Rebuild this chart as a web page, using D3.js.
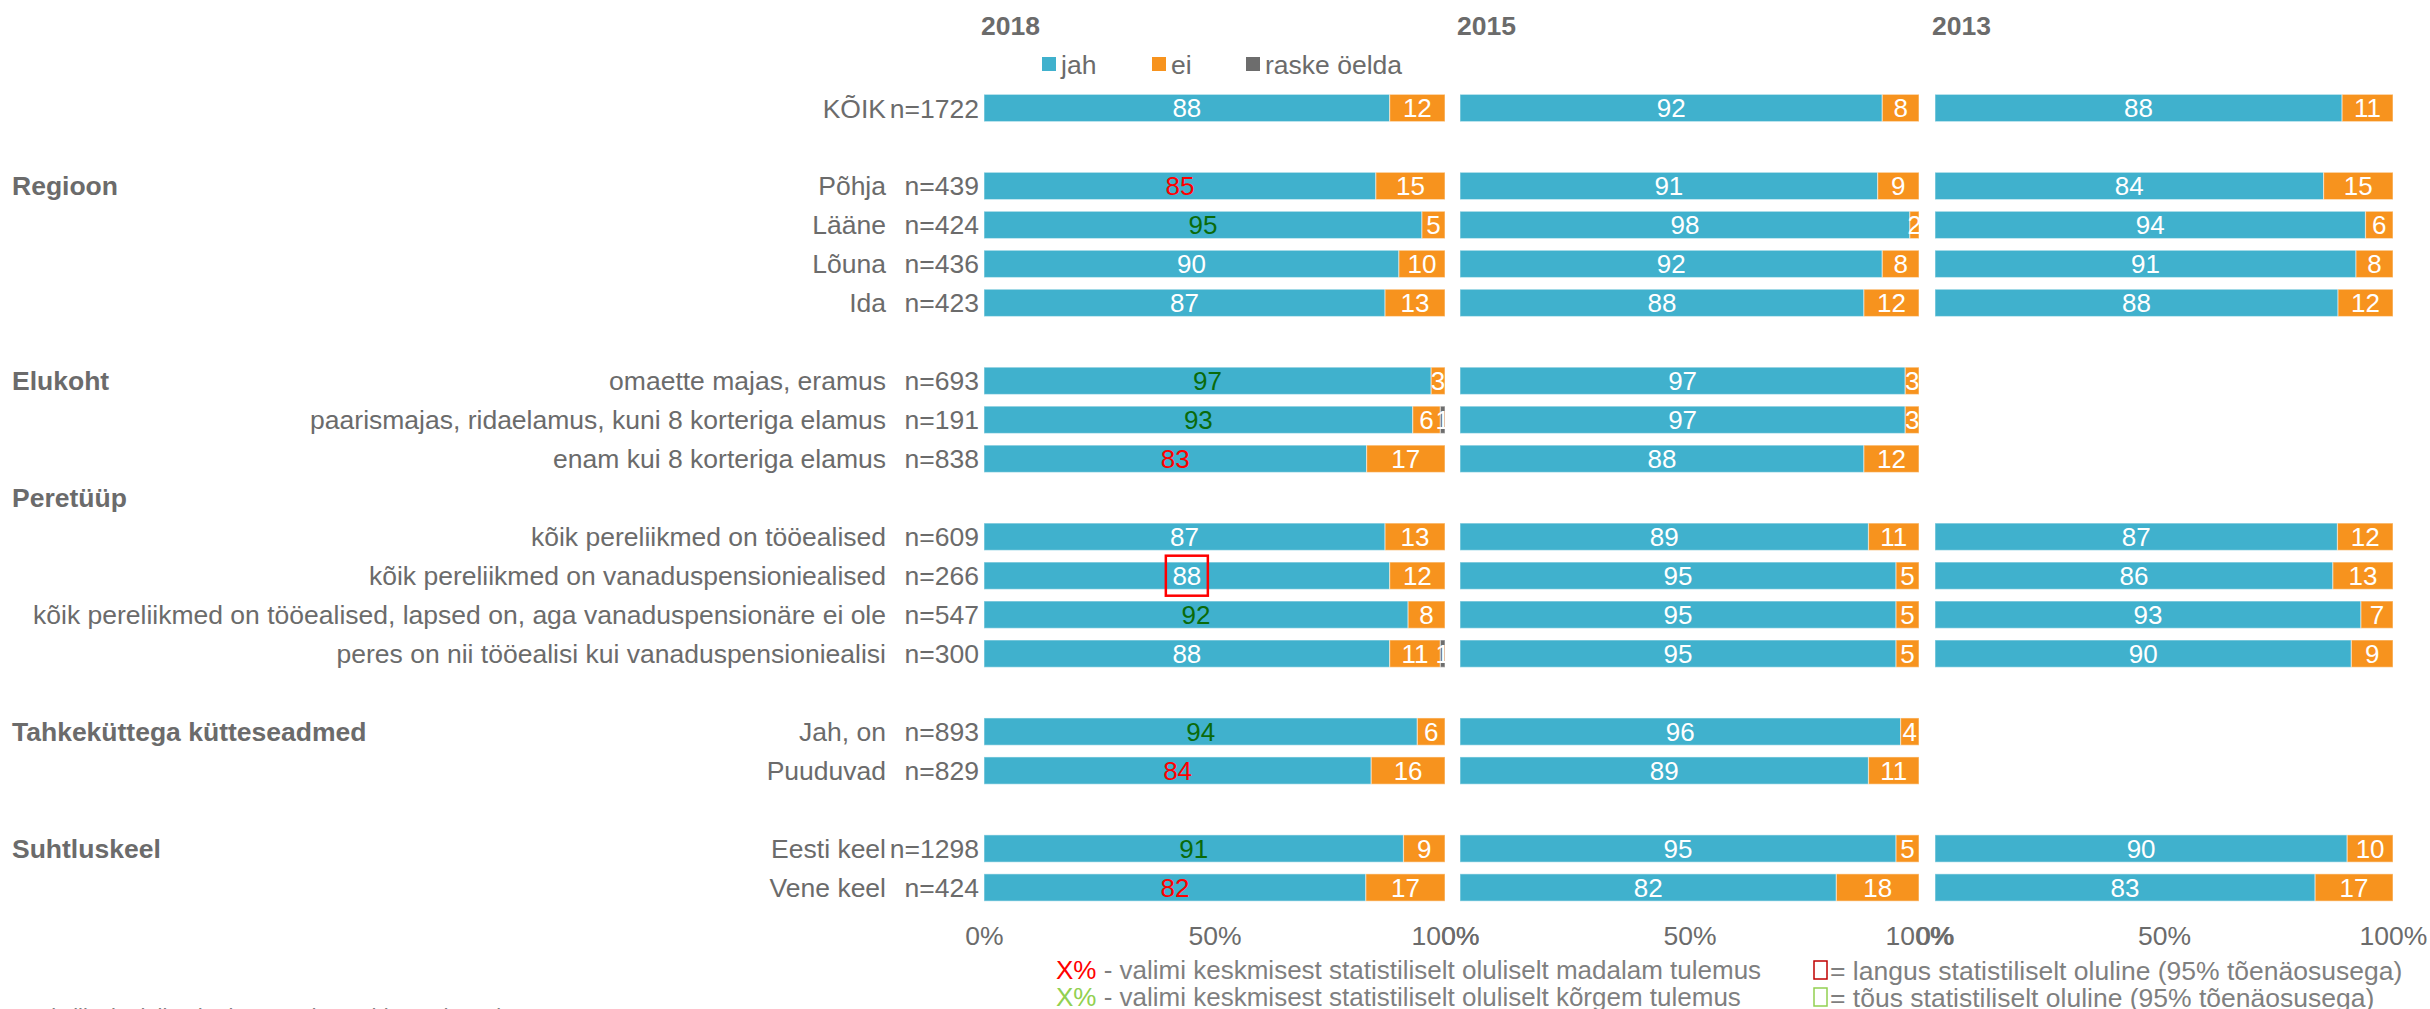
<!DOCTYPE html>
<html>
<head>
  <meta http-equiv="Content-Type" content="text/html;charset=utf-8" />
  <script src="https://cdn.jsdelivr.net/npm/d3@7"></script>
  <style type="text/css">
    body { margin: 0; background: #fff; }
    text { font-family: "Liberation Sans", Arial, sans-serif; }
    .lbl { fill: #6b6b6b; font-size: 26.5px; }
    .head { fill: #6b6b6b; font-size: 26.5px; font-weight: bold; }
    .axis text { fill: #6b6b6b; }
  </style>
</head>
<body>
  <svg id="c" width="2430" height="1009"></svg>
  <script>

    // row order (spacer rows start with "_")
    const categories = ["KÕIK", "_s1", "Põhja", "Lääne", "Lõuna", "Ida", "_s2",
      "omaette majas, eramus", "paarismajas, ridaelamus, kuni 8 korteriga elamus", "enam kui 8 korteriga elamus",
      "_peretyyp",
      "kõik pereliikmed on tööealised", "kõik pereliikmed on vanaduspensioniealised",
      "kõik pereliikmed on tööealised, lapsed on, aga vanaduspensionäre ei ole",
      "peres on nii tööealisi kui vanaduspensioniealisi", "_s3",
      "Jah, on", "Puuduvad", "_s4", "Eesti keel", "Vene keel"];
    const nLabels = ["n=1722", null, "n=439", "n=424", "n=436", "n=423", null,
      "n=693", "n=191", "n=838", null, "n=609", "n=266", "n=547", "n=300", null,
      "n=893", "n=829", null, "n=1298", "n=424"];

    const sections = [
      { name: "Regioon", row: "Põhja" },
      { name: "Elukoht", row: "omaette majas, eramus" },
      { name: "Peretüüp", row: "_peretyyp" },
      { name: "Tahkeküttega kütteseadmed", row: "Jah, on" },
      { name: "Suhtluskeel", row: "Eesti keel" }
    ];

    const years = ["2018", "2015", "2013"];
    const seriesKeys = ["jah", "ei", "raske öelda"];
    const seriesColors = ["#40b1cd", "#f7931e", "#6d6d6d"];

    const jah2018 = [88, null, 85, 95, 90, 87, null, 97, 93, 83, null, 87, 88, 92, 88, null, 94, 84, null, 91, 82];
    const ei2018 = [12, null, 15, 5, 10, 13, null, 3, 6, 17, null, 13, 12, 8, 11, null, 6, 16, null, 9, 17];
    const raske2018 = [0, null, 0, 0, 0, 0, null, 0, 1, 0, null, 0, 0, 0, 1, null, 0, 0, null, 0, 0];

    const jah2015 = [92, null, 91, 98, 92, 88, null, 97, 97, 88, null, 89, 95, 95, 95, null, 96, 89, null, 95, 82];
    const ei2015 = [8, null, 9, 2, 8, 12, null, 3, 3, 12, null, 11, 5, 5, 5, null, 4, 11, null, 5, 18];
    const raske2015 = [0, null, 0, 0, 0, 0, null, 0, 0, 0, null, 0, 0, 0, 0, null, 0, 0, null, 0, 0];

    const jah2013 = [88, null, 84, 94, 91, 88, null, null, null, null, null, 87, 86, 93, 90, null, null, null, null, 90, 83];
    const ei2013 = [11, null, 15, 6, 8, 12, null, null, null, null, null, 12, 13, 7, 9, null, null, null, null, 10, 17];
    const raske2013 = [0, null, 0, 0, 0, 0, null, null, null, null, null, 0, 0, 0, 0, null, null, null, null, 0, 0];

    // significance vs sample mean (2018 only): -1 lower, 1 higher
    const sig2018 = [0, null, -1, 1, 0, 0, null, 1, 1, -1, null, 0, 0, 1, 0, null, 1, -1, null, 1, -1];
    // significant decline vs previous wave
    const decline2018 = ["kõik pereliikmed on vanaduspensioniealised"];

    const tickValues = [0, 0.5, 1];

    const panelData = {
      "2018": [jah2018, ei2018, raske2018],
      "2015": [jah2015, ei2015, raske2015],
      "2013": [jah2013, ei2013, raske2013]
    };

    const svg = d3.select("#c");

    const y = d3.scaleBand()
      .domain(categories)
      .range([88.5, 907])
      .paddingInner(0.3)
      .paddingOuter(0.15);

    const xPanel = d3.scaleOrdinal()
      .domain(years)
      .range([[984, 1445], [1460, 1919], [1935, 2393]]);

    const color = d3.scaleOrdinal().domain(seriesKeys).range(seriesColors);

    const stack = d3.stack().keys(seriesKeys).offset(d3.stackOffsetExpand);

    // row labels
    const labelRows = categories.map((c, i) => ({ c, n: nLabels[i] })).filter(d => d.n);
    svg.append("g").selectAll("text").data(labelRows).join("text")
      .attr("class", "lbl")
      .attr("x", 886)
      .attr("y", d => y(d.c) + y.bandwidth() / 2)
      .attr("dy", "0.36em")
      .attr("text-anchor", "end")
      .text(d => d.c);
    svg.append("g").selectAll("text").data(labelRows).join("text")
      .attr("class", "lbl")
      .attr("x", 979)
      .attr("y", d => y(d.c) + y.bandwidth() / 2)
      .attr("dy", "0.36em")
      .attr("text-anchor", "end")
      .text(d => d.n);

    svg.append("g").selectAll("text").data(sections).join("text")
      .attr("class", "head")
      .attr("x", 12)
      .attr("y", d => y(d.row) + y.bandwidth() / 2)
      .attr("dy", "0.36em")
      .text(d => d.name);

    years.forEach(year => {
      const x = d3.scaleLinear().domain([0, 1]).range(xPanel(year));
      const [a, b, c] = panelData[year];
      const rows = categories.map((cat, i) => ({
        cat, i, "jah": a[i], "ei": b[i], "raske öelda": c[i]
      })).filter(d => d.jah != null);

      const series = stack(rows);
      const g = svg.append("g");

      g.selectAll("g").data(series).join("g")
        .attr("fill", d => color(d.key))
        .selectAll("rect").data(d => d).join("rect")
        .attr("x", p => x(p[0]))
        .attr("y", p => y(p.data.cat))
        .attr("width", p => Math.max(0, x(p[1]) - x(p[0])))
        .attr("height", y.bandwidth())
        .attr("stroke", "rgba(255,255,255,0.45)")
        .attr("stroke-width", 1.2);

      const labels = series.flatMap(s => s.map(p => ({ p, key: s.key })))
        .filter(d => d.p.data[d.key] > 0);

      g.selectAll("text.v").data(labels).join("text")
        .attr("class", "v")
        .attr("x", d => (x(d.p[0]) + x(d.p[1])) / 2)
        .attr("y", d => y(d.p.data.cat) + y.bandwidth() / 2)
        .attr("dy", "0.36em")
        .attr("text-anchor", "middle")
        .attr("font-size", 26)
        .attr("fill", d => {
          if (year === "2018" && d.key === "jah") {
            const s = sig2018[d.p.data.i];
            if (s === -1) return "#ff0000";
            if (s === 1) return "#0a6a0a";
          }
          return "#fff";
        })
        .text(d => d.p.data[d.key]);

      if (year === "2018") {
        const boxed = labels.filter(d => d.key === "jah" && decline2018.includes(d.p.data.cat));
        g.selectAll("rect.box").data(boxed).join("rect")
          .attr("class", "box")
          .attr("x", d => (x(d.p[0]) + x(d.p[1])) / 2 - 21)
          .attr("y", d => y(d.p.data.cat) + y.bandwidth() / 2 - 20)
          .attr("width", 42)
          .attr("height", 40)
          .attr("fill", "none")
          .attr("stroke", "#ff0000")
          .attr("stroke-width", 2.5);
      }

      // year title
      svg.append("text")
        .attr("class", "head")
        .attr("x", x(0) - 3)
        .attr("y", 25)
        .attr("dy", "0.36em")
        .text(year);

      // axis
      const axis = d3.axisBottom(x).tickValues(tickValues).tickFormat(d3.format(".0%")).tickSize(0).tickPadding(0);
      svg.append("g")
        .attr("class", "axis")
        .attr("transform", "translate(0,926)")
        .call(axis)
        .call(s => s.select(".domain").remove())
        .selectAll("text").attr("font-size", 26.5).attr("font-family", null);
    });

    // top legend
    const legendX = [1042, 1152, 1246];
    const lg = svg.append("g").selectAll("g").data(seriesKeys).join("g")
      .attr("transform", (d, i) => `translate(${legendX[i]},57)`);
    lg.append("rect").attr("width", 14).attr("height", 14).attr("fill", d => color(d));
    lg.append("text").attr("class", "lbl").attr("x", 19).attr("y", 7).attr("dy", "0.36em").text(d => d);

    // bottom notes
    const notes = [
      { mark: "X%", markColor: "#ff0000", text: " - valimi keskmisest statistiliselt oluliselt madalam tulemus", y: 970 },
      { mark: "X%", markColor: "#92d050", text: " - valimi keskmisest statistiliselt oluliselt kõrgem tulemus", y: 997 }
    ];
    const nt = svg.append("g").selectAll("text").data(notes).join("text")
      .attr("x", 1056).attr("y", d => d.y).attr("dy", "0.36em").attr("font-size", 26);
    nt.append("tspan").attr("fill", d => d.markColor).text(d => d.mark);
    nt.append("tspan").attr("fill", "#7f7f7f").text(d => d.text);

    const boxNotes = [
      { color: "#c00000", text: "= langus statistiliselt oluline (95% tõenäosusega)", y: 970 },
      { color: "#92d050", text: "= tõus statistiliselt oluline (95% tõenäosusega)", y: 997 }
    ];
    const bn = svg.append("g").selectAll("g").data(boxNotes).join("g")
      .attr("transform", d => `translate(1813,${d.y})`);
    bn.append("rect").attr("x", 1).attr("y", -9).attr("width", 13).attr("height", 18)
      .attr("fill", "#fff").attr("stroke", d => d.color).attr("stroke-width", 1.5);
    bn.append("text").attr("x", 17).attr("dy", "0.36em").attr("font-size", 26.5).attr("fill", "#7f7f7f").text(d => d.text);

    svg.append("text")
      .attr("x", 12).attr("y", 1024).attr("font-size", 22).attr("fill", "#7f7f7f")
      .text("Statistiliselt olulised erinevused on tähistatud värviga");

  </script>
</body>
</html>
